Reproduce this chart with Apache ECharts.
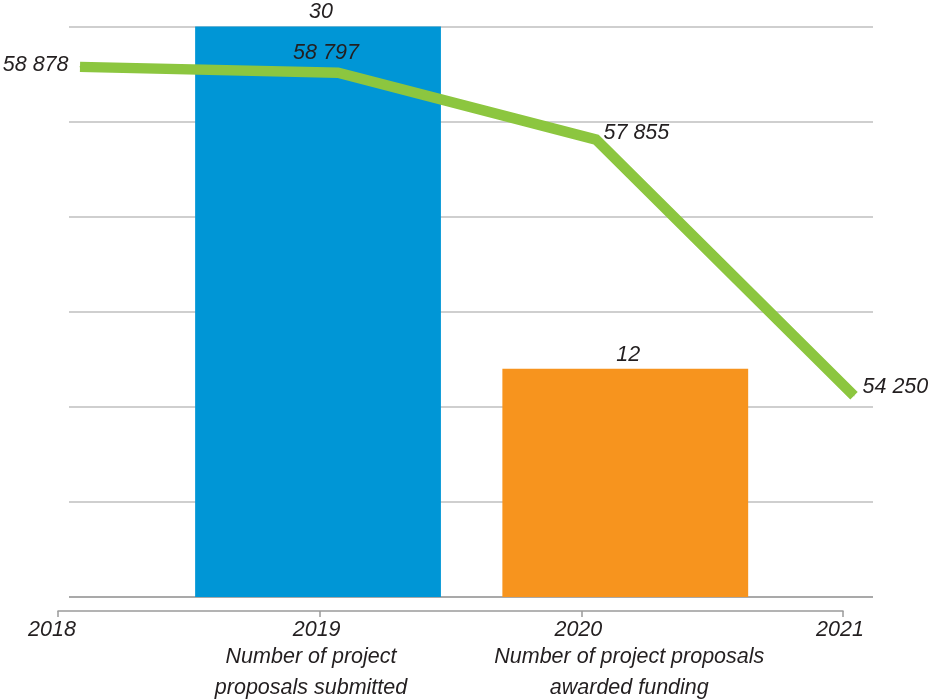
<!DOCTYPE html>
<html>
<head>
<meta charset="utf-8">
<script src="https://cdn.jsdelivr.net/npm/echarts@6/dist/echarts.min.js"></script>
<style>
html,body{margin:0;padding:0;background:#fff;}
#chart{width:929px;height:700px;}
</style>
</head>
<body>
<div id="chart"></div>
<script>
const years = ['2018', '2019', '2020', '2021'];
const lineValues = [58878, 58797, 57855, 54250];
const barCategories = ['Number of project\nproposals submitted', 'Number of project proposals\nawarded funding'];
const barValues = [30, 12];

const barColors = ['#0096D6', '#F7941E'];
const lineColor = '#8CC63F';
const textColor = '#231F20';
const FONT = 'Liberation Sans';
const FS = 21.5;

function fmtSpace(v) {
  return String(v).replace(/\B(?=(\d{3})+(?!\d))/g, ' ');
}

// label placement for each line point (style, not data)
const lineLabelStyles = [
  { position: 'left', distance: 11, offset: [0, -2] },
  { position: 'top', distance: 8, offset: [-12, 0] },
  { position: 'right', distance: 5, offset: [2, -7] },
  { position: 'right', distance: 8, offset: [0, -9] }
];

const baseText = { fontFamily: FONT, fontStyle: 'italic', fontSize: FS, color: textColor };

const chart = echarts.init(document.getElementById('chart'), null, { renderer: 'canvas' });

const option = {
  backgroundColor: '#fff',
  animation: false,
  textStyle: { fontFamily: FONT, fontStyle: 'italic', color: textColor },
  grid: [
    { left: 69, right: 56, top: 26.5, bottom: 103, outerBoundsMode: 'none', containLabel: false },      // gridlines
    { left: 164.4, right: 150.1, top: 26.5, bottom: 103, outerBoundsMode: 'none', containLabel: false }, // bars
    { left: 58, right: 86, top: 26.5, bottom: 89, outerBoundsMode: 'none', containLabel: false },        // year axis
    { left: 80, right: 75, top: 26.5, bottom: 103, outerBoundsMode: 'none', containLabel: false }        // line
  ],
  xAxis: [
    { gridIndex: 0, type: 'value', min: 0, max: 1, show: false },
    {
      gridIndex: 1, type: 'category', data: barCategories,
      axisLine: { show: false }, axisTick: { show: false },
      axisLabel: Object.assign({
        interval: 0, margin: 44.5, lineHeight: 31,
        formatter: function (v, i) {
          return v.split('\n').map(function (l) { return '{c' + i + '|' + l + '}'; }).join('\n');
        },
        rich: {
          c0: Object.assign({ lineHeight: 31, padding: [0, 14, 0, 0] }, baseText),
          c1: Object.assign({ lineHeight: 31, padding: [0, 0, 0, 8] }, baseText)
        }
      }, baseText)
    },
    {
      gridIndex: 2, type: 'category', data: years, boundaryGap: false,
      axisLine: { show: true, lineStyle: { color: '#9a9a9a', width: 1.5 } },
      axisTick: { show: true, inside: false, length: 6, lineStyle: { color: '#9a9a9a', width: 1.5 } },
      axisLabel: Object.assign({
        interval: 0, margin: 8.5, lineHeight: 21,
        formatter: function (v, i) { return '{' + (i === 0 ? 'y0' : 'y1') + '|' + v + '}'; },
        rich: {
          y0: Object.assign({ lineHeight: 21, padding: [0, 12, 0, 0] }, baseText),
          y1: Object.assign({ lineHeight: 21, padding: [0, 6, 0, 0] }, baseText)
        }
      }, baseText)
    },
    { gridIndex: 3, type: 'category', data: years, boundaryGap: false, show: false }
  ],
  yAxis: [
    {
      gridIndex: 0, type: 'value', min: 0, max: 30, interval: 5,
      axisLine: { show: false }, axisTick: { show: false }, axisLabel: { show: false },
      splitLine: { show: true, lineStyle: { color: ['#8c8c8c', '#bfbfbf', '#bfbfbf', '#bfbfbf', '#bfbfbf', '#bfbfbf', '#bfbfbf'], width: 1.5 } }
    },
    { gridIndex: 1, type: 'value', min: 0, max: 30, show: false },
    { gridIndex: 2, type: 'value', min: 0, max: 1, show: false },
    { gridIndex: 3, type: 'value', min: 51420, max: 59446, show: false }
  ],
  series: [
    {
      type: 'bar',
      xAxisIndex: 1, yAxisIndex: 1,
      data: barValues,
      barWidth: '80%',
      itemStyle: { color: function (p) { return barColors[p.dataIndex]; } },
      label: Object.assign({ show: true, position: 'top', distance: 3, offset: [3, 0] }, baseText),
      z: 2
    },
    {
      type: 'line',
      xAxisIndex: 3, yAxisIndex: 3,
      data: lineValues.map(function (v, i) {
        return { value: v, label: lineLabelStyles[i] };
      }),
      symbol: 'circle',
      symbolSize: 1,
      itemStyle: { color: lineColor },
      lineStyle: { color: lineColor, width: 10.5, cap: 'butt', join: 'miter' },
      label: Object.assign({
        show: true,
        formatter: function (p) { return fmtSpace(p.value); }
      }, baseText),
      z: 3
    }
  ]
};

chart.setOption(option);
</script>
</body>
</html>
